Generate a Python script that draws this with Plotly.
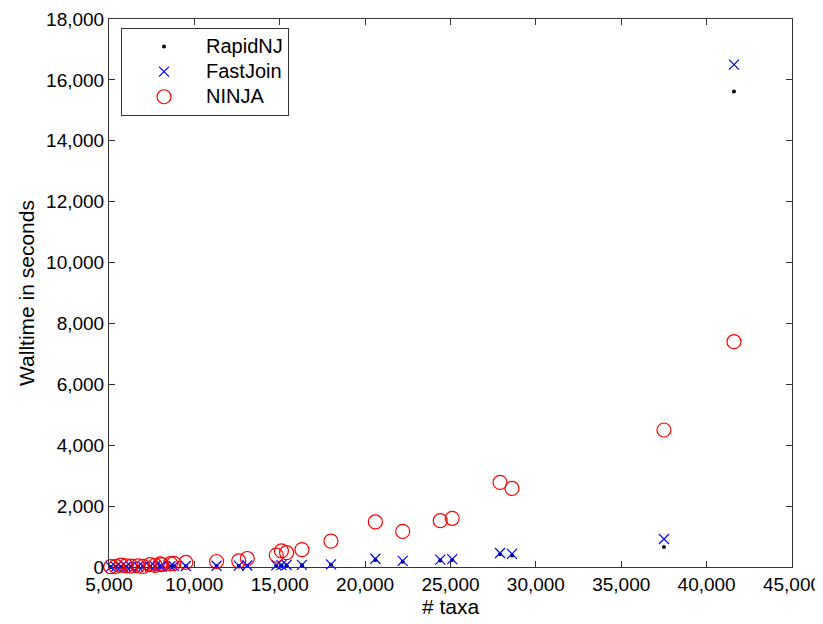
import plotly.graph_objects as go

taxa = [5100, 5400, 5700, 6000, 6300, 6700, 7000, 7400, 7700, 8000, 8100, 8600, 8800, 9500,
        11300, 12600, 13100, 14800, 15100, 15400, 16300, 18000, 20600, 22200, 24400, 25100,
        27900, 28600, 37500, 41600]
rapidnj = [3, 4, 5, 6, 7, 8, 10, 12, 14, 16, 17, 19, 21, 25,
           30, 35, 38, 45, 48, 52, 58, 70, 230, 170, 210, 230, 420, 380, 660, 15620]
fastjoin = [5, 6, 8, 9, 10, 12, 14, 17, 19, 22, 23, 26, 28, 33,
            40, 45, 50, 58, 62, 66, 72, 88, 270, 200, 240, 260, 460, 430, 920, 16500]
ninja = [10, 20, 60, 40, 30, 40, 20, 80, 50, 100, 80, 110, 120, 150,
         180, 200, 280, 390, 530, 470, 570, 850, 1480, 1170, 1520, 1600, 2780, 2580, 4500, 7400]
series_names = ["RapidNJ", "FastJoin", "NINJA"]

x_ticks = [5000, 10000, 15000, 20000, 25000, 30000, 35000, 40000, 45000]
y_ticks = [0, 2000, 4000, 6000, 8000, 10000, 12000, 14000, 16000, 18000]

FONT = "Arial, Liberation Sans, sans-serif"


def legend_label(s):
    # larger text than the legend row height would give on its own
    return "<span style='font-size:20px'>" + s + "</span>"


fig = go.Figure()
fig.add_trace(go.Scatter(x=taxa, y=rapidnj, mode="markers", name=legend_label(series_names[0]),
                         cliponaxis=False,
                         marker=dict(symbol="circle", size=4, color="black")))
fig.add_trace(go.Scatter(x=taxa, y=fastjoin, mode="markers", name=legend_label(series_names[1]),
                         cliponaxis=False,
                         marker=dict(symbol="x-thin-open", size=10, color="blue",
                                     line=dict(color="blue", width=1.2))))
fig.add_trace(go.Scatter(x=taxa, y=ninja, mode="markers", name=legend_label(series_names[2]),
                         cliponaxis=False,
                         marker=dict(symbol="circle-open", size=14, color="red",
                                     line=dict(color="red", width=1.2))))

axis_common = dict(showline=True, linecolor="#333333", linewidth=1, mirror="ticks",
                   ticks="inside", ticklen=6, tickcolor="#333333", showgrid=False,
                   zeroline=False, tickformat=",d", automargin=False,
                   tickfont=dict(family=FONT, size=19, color="black"),
                   title_font=dict(family=FONT, size=21, color="black"))

fig.update_xaxes(range=[5000, 45000], tickvals=x_ticks, title_text="# taxa",
                 title_standoff=0, **axis_common)
fig.update_yaxes(range=[0, 18000], tickvals=y_ticks, title_text="Walltime in seconds",
                 title_standoff=5, **axis_common)

# page body has an 8px default margin, so the figure is sized/offset to compensate
fig.update_layout(
    width=815, height=616,
    margin=dict(l=101, r=31, t=11, b=57),
    paper_bgcolor="white", plot_bgcolor="white",
    font=dict(family=FONT, size=19, color="black"),
    legend=dict(x=0.0176, y=0.9836, xanchor="left", yanchor="top",
                bordercolor="#333333", borderwidth=1, bgcolor="white",
                font=dict(family=FONT, size=17, color="black"),
                itemwidth=74, tracegroupgap=0),
    showlegend=True,
)

fig.write_html("out.html")
